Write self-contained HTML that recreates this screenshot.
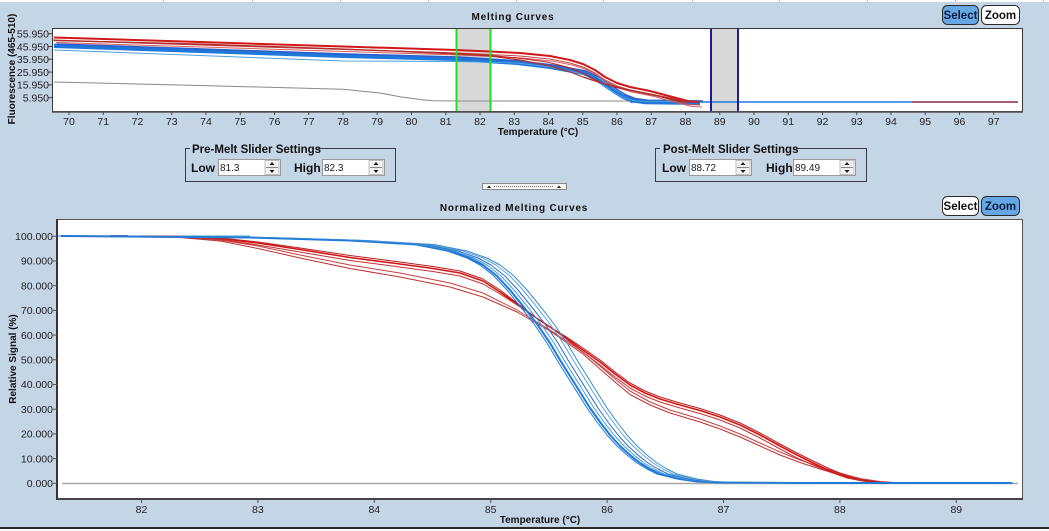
<!DOCTYPE html>
<html><head><meta charset="utf-8"><style>
html,body{margin:0;padding:0;background:#c4d5e6;}
svg{display:block;}
text{font-family:"Liberation Sans",Arial,sans-serif;}
.tk{font-size:10.5px;fill:#222;}
.ttl{font-size:10px;font-weight:bold;letter-spacing:0.8px;fill:#111;}
.ax{font-size:10px;font-weight:bold;fill:#111;}
.lbl{font-size:12px;font-weight:bold;fill:#111;}
.grp{font-size:11.5px;font-weight:bold;fill:#111;}
.inp{font-size:10px;fill:#222;}
</style></head><body>
<svg width="1049" height="531" viewBox="0 0 1049 531" xmlns="http://www.w3.org/2000/svg" xmlns:xlink="http://www.w3.org/1999/xlink">
<defs>
<clipPath id="c1"><rect x="53" y="29" width="969" height="82"/></clipPath>
<clipPath id="c2"><rect x="58" y="220" width="955" height="278"/></clipPath>
<polyline id="tb" fill="none" stroke-linejoin="round" points="54,45 200,50 343,55 456,58 517,62 550,66 583,72 596,78 606,85 615,91 623,96 632,99.5 645,101.3 700,102"/>
<polyline id="tr" fill="none" stroke-linejoin="round" points="54,37.5 200,42 343,46.5 456,50 490,51.5 520,53 550,56 570,60 583,64 595,70 605,77 617,83 630,87 650,91 665,95 680,99 690,101.5 700,102"/>
<polyline id="bb" fill="none" stroke-linejoin="round" points="61,236 250,237.5 350,240.5 417,244.5 450,251 470,258 483,265 497,276 510,290 523,306 537,324 550,343 560,360 570,376 580,392 590,408 600,422 610,435 620,446 630,455 640,463 650,469 660,474 680,479 697,481.5 720,482.5 800,483 1012,483"/>
</defs>
<rect x="0" y="0" width="1049" height="531" fill="#c4d5e6"/>
<rect x="0" y="0" width="1049" height="2" fill="#fff"/>
<g stroke="#b8b8b8" stroke-width="1">
<line x1="163.5" y1="0" x2="163.5" y2="2"/><line x1="252.5" y1="0" x2="252.5" y2="2"/><line x1="340.5" y1="0" x2="340.5" y2="2"/><line x1="428.5" y1="0" x2="428.5" y2="2"/><line x1="516.5" y1="0" x2="516.5" y2="2"/><line x1="603.5" y1="0" x2="603.5" y2="2"/><line x1="692.5" y1="0" x2="692.5" y2="2"/><line x1="779.5" y1="0" x2="779.5" y2="2"/><line x1="867.5" y1="0" x2="867.5" y2="2"/><line x1="955.5" y1="0" x2="955.5" y2="2"/><line x1="1043.5" y1="0" x2="1043.5" y2="2"/>
</g>
<rect x="0" y="527" width="1049" height="2" fill="#2a2a2a"/>
<rect x="0" y="529" width="1049" height="2" fill="#fff"/>

<!-- ============ TOP CHART ============ -->
<text x="513" y="20" class="ttl" text-anchor="middle">Melting Curves</text>
<rect x="942.5" y="5.5" width="36" height="19" rx="5" fill="#67a7e4" stroke="#2a2a2a"/>
<text x="960.5" y="19" font-size="11.5" font-weight="bold" fill="#0d2040" text-anchor="middle">Select</text>
<rect x="981.5" y="5.5" width="38" height="19" rx="5" fill="#fff" stroke="#2a2a2a"/>
<text x="1000.5" y="19" font-size="11.5" font-weight="bold" fill="#111" text-anchor="middle">Zoom</text>

<rect x="52" y="28" width="971" height="84" fill="#fff"/>
<rect x="456" y="29" width="34.5" height="82" fill="#d9d9d9"/>
<rect x="711" y="29" width="26.5" height="82" fill="#d9d9d9"/>
<g clip-path="url(#c1)" fill="none" stroke-linejoin="round">
<polyline stroke="#8a8a8a" stroke-width="1" points="54,82 200,85.5 343,89.3 380,93 400,96.7 420,99.5 433,100.7 460,101 700,101"/>
<line x1="630" y1="102" x2="912" y2="102" stroke="#1e7be0" stroke-width="1.5"/>
<line x1="912" y1="102" x2="1018" y2="102" stroke="#8c2848" stroke-width="1.5"/>
<use xlink:href="#tb" href="#tb" stroke="#1e78dc" stroke-width="3"/>
<use xlink:href="#tb" href="#tb" stroke="#1e78dc" stroke-width="2" transform="translate(0,2)"/>
<use xlink:href="#tb" href="#tb" stroke="#2f5fc8" stroke-width="1.5" transform="translate(3,-1)"/>
<polyline stroke-width="1" stroke="#4aa0e0" points="54,50 200,55.5 343,61 456,61.5 517,63 550,67 583,74 600,83 612,91 622,97 635,101 700,102"/>
<use xlink:href="#tr" href="#tr" stroke="#d01818" stroke-width="2"/>
<use xlink:href="#tr" href="#tr" stroke="#c84848" stroke-width="1" transform="translate(0,3)"/>
<use xlink:href="#tr" href="#tr" stroke="#d86060" stroke-width="1" transform="translate(2,5)"/>
<polyline stroke-width="1" stroke="#c02020" points="51,40 197,44.5 340,49 453,53 487,55 517,58 547,62 567,67 580,72 592,78 602,83 614,87 627,90 647,94 662,97 677,101 687,102 697,102"/>
<polyline stroke-width="1.2" stroke="#b03030" points="54,40.5 200,44 343,49 456,54 490,56 520,60 550,66 570,72 583,77 595,81 605,84 617,87 630,90 650,94 665,97 680,100.5 690,102 700,102"/>
</g>
<line x1="456.5" y1="28" x2="456.5" y2="112" stroke="#22dd22" stroke-width="2"/>
<line x1="490.5" y1="28" x2="490.5" y2="112" stroke="#22dd22" stroke-width="2"/>
<line x1="711" y1="28" x2="711" y2="112" stroke="#1a1a9a" stroke-width="2"/>
<line x1="738" y1="28" x2="738" y2="112" stroke="#1a1a9a" stroke-width="2"/>
<rect x="52.5" y="28.5" width="970" height="83" fill="none" stroke="#3a3a3a" stroke-width="1"/>
<line x1="52" y1="112" x2="1023" y2="112" stroke="#555" stroke-width="1.5"/>
<g stroke="#444" stroke-width="1">
<line x1="48" y1="33.7" x2="52" y2="33.7"/><line x1="48" y1="46.5" x2="52" y2="46.5"/><line x1="48" y1="59.3" x2="52" y2="59.3"/><line x1="48" y1="72.1" x2="52" y2="72.1"/><line x1="48" y1="84.9" x2="52" y2="84.9"/><line x1="48" y1="97.7" x2="52" y2="97.7"/>
</g>
<g class="tk" text-anchor="end">
<text x="49" y="37.5">55.950</text><text x="49" y="50.3">45.950</text><text x="49" y="63.1">35.950</text><text x="49" y="75.9">25.950</text><text x="49" y="88.7">15.950</text><text x="49" y="101.5">5.950</text>
</g>
<text transform="translate(15,69) rotate(-90)" class="ax" text-anchor="middle" font-size="9.5">Fluorescence (465-510)</text>
<g stroke="#444" stroke-width="1">
<line x1="69" y1="112" x2="69" y2="115"/><line x1="103.25" y1="112" x2="103.25" y2="115"/><line x1="137.5" y1="112" x2="137.5" y2="115"/><line x1="171.75" y1="112" x2="171.75" y2="115"/><line x1="206" y1="112" x2="206" y2="115"/><line x1="240.25" y1="112" x2="240.25" y2="115"/><line x1="274.5" y1="112" x2="274.5" y2="115"/><line x1="308.75" y1="112" x2="308.75" y2="115"/><line x1="343" y1="112" x2="343" y2="115"/><line x1="377.25" y1="112" x2="377.25" y2="115"/><line x1="411.5" y1="112" x2="411.5" y2="115"/><line x1="445.75" y1="112" x2="445.75" y2="115"/><line x1="480" y1="112" x2="480" y2="115"/><line x1="514.25" y1="112" x2="514.25" y2="115"/><line x1="548.5" y1="112" x2="548.5" y2="115"/><line x1="582.75" y1="112" x2="582.75" y2="115"/><line x1="617" y1="112" x2="617" y2="115"/><line x1="651.25" y1="112" x2="651.25" y2="115"/><line x1="685.5" y1="112" x2="685.5" y2="115"/><line x1="719.75" y1="112" x2="719.75" y2="115"/><line x1="754" y1="112" x2="754" y2="115"/><line x1="788.25" y1="112" x2="788.25" y2="115"/><line x1="822.5" y1="112" x2="822.5" y2="115"/><line x1="856.75" y1="112" x2="856.75" y2="115"/><line x1="891" y1="112" x2="891" y2="115"/><line x1="925.25" y1="112" x2="925.25" y2="115"/><line x1="959.5" y1="112" x2="959.5" y2="115"/><line x1="993.75" y1="112" x2="993.75" y2="115"/>
</g>
<g class="tk" text-anchor="middle">
<text x="69" y="125">70</text><text x="103.25" y="125">71</text><text x="137.5" y="125">72</text><text x="171.75" y="125">73</text><text x="206" y="125">74</text><text x="240.25" y="125">75</text><text x="274.5" y="125">76</text><text x="308.75" y="125">77</text><text x="343" y="125">78</text><text x="377.25" y="125">79</text><text x="411.5" y="125">80</text><text x="445.75" y="125">81</text><text x="480" y="125">82</text><text x="514.25" y="125">83</text><text x="548.5" y="125">84</text><text x="582.75" y="125">85</text><text x="617" y="125">86</text><text x="651.25" y="125">87</text><text x="685.5" y="125">88</text><text x="719.75" y="125">89</text><text x="754" y="125">90</text><text x="788.25" y="125">91</text><text x="822.5" y="125">92</text><text x="856.75" y="125">93</text><text x="891" y="125">94</text><text x="925.25" y="125">95</text><text x="959.5" y="125">96</text><text x="993.75" y="125">97</text>
</g>
<text x="538" y="135" class="ax" text-anchor="middle">Temperature (°C)</text>

<!-- ============ SLIDER SETTINGS ============ -->
<g>
<rect x="185.5" y="148.5" width="210" height="33" fill="none" stroke="#3a3a4a" stroke-width="1"/>
<rect x="190" y="142" width="128" height="12" fill="#c4d5e6"/>
<text x="192" y="153" class="grp">Pre-Melt Slider Settings</text>
<text x="191" y="172" class="lbl">Low</text>
<rect x="218.5" y="159.5" width="62" height="16" fill="#fff" stroke="#9a9a9a"/>
<text x="220" y="171" class="inp">81.3</text>
<rect x="265" y="160.5" width="14" height="14" fill="#f2f2f2" stroke="#c0c0c0"/>
<line x1="266" y1="167.5" x2="278" y2="167.5" stroke="#888"/>
<path d="M269.5,165 L272,162 L274.5,165 Z M269.5,170 L272,173 L274.5,170 Z" fill="#222"/>
<text x="294" y="172" class="lbl">High</text>
<rect x="322.5" y="159.5" width="62" height="16" fill="#fff" stroke="#9a9a9a"/>
<text x="324" y="171" class="inp">82.3</text>
<rect x="369" y="160.5" width="14" height="14" fill="#f2f2f2" stroke="#c0c0c0"/>
<line x1="370" y1="167.5" x2="382" y2="167.5" stroke="#888"/>
<path d="M373.5,165 L376,162 L378.5,165 Z M373.5,170 L376,173 L378.5,170 Z" fill="#222"/>
</g>
<g>
<rect x="655.5" y="148.5" width="211" height="33" fill="none" stroke="#3a3a4a" stroke-width="1"/>
<rect x="660" y="142" width="136" height="12" fill="#c4d5e6"/>
<text x="663" y="153" class="grp">Post-Melt Slider Settings</text>
<text x="662" y="172" class="lbl">Low</text>
<rect x="689.5" y="159.5" width="62" height="16" fill="#fff" stroke="#9a9a9a"/>
<text x="691" y="171" class="inp">88.72</text>
<rect x="736" y="160.5" width="14" height="14" fill="#f2f2f2" stroke="#c0c0c0"/>
<line x1="737" y1="167.5" x2="749" y2="167.5" stroke="#888"/>
<path d="M740.5,165 L743,162 L745.5,165 Z M740.5,170 L743,173 L745.5,170 Z" fill="#222"/>
<text x="766" y="172" class="lbl">High</text>
<rect x="793.5" y="159.5" width="62" height="16" fill="#fff" stroke="#9a9a9a"/>
<text x="795" y="171" class="inp">89.49</text>
<rect x="840" y="160.5" width="14" height="14" fill="#f2f2f2" stroke="#c0c0c0"/>
<line x1="841" y1="167.5" x2="853" y2="167.5" stroke="#888"/>
<path d="M844.5,165 L847,162 L849.5,165 Z M844.5,170 L847,173 L849.5,170 Z" fill="#222"/>
</g>
<rect x="482.5" y="183.5" width="84" height="6" fill="#f4f4f4" stroke="#8a8a8a"/>
<path d="M487,188 L489,185.5 L491,188 Z M557,188 L559,185.5 L561,188 Z" fill="#222"/>
<line x1="494" y1="186.5" x2="554" y2="186.5" stroke="#777" stroke-dasharray="1,1"/>

<!-- ============ BOTTOM CHART ============ -->
<text x="514" y="211" class="ttl" text-anchor="middle">Normalized Melting Curves</text>
<rect x="942.5" y="196.5" width="36" height="19" rx="5" fill="#fff" stroke="#2a2a2a"/>
<text x="960.5" y="210" font-size="11.5" font-weight="bold" fill="#111" text-anchor="middle">Select</text>
<rect x="981.5" y="196.5" width="38" height="19" rx="5" fill="#67a7e4" stroke="#2a2a2a"/>
<text x="1000.5" y="210" font-size="11.5" font-weight="bold" fill="#0d2040" text-anchor="middle">Zoom</text>

<rect x="57" y="219" width="966" height="280" fill="#fff"/>
<line x1="62" y1="483.5" x2="1018" y2="483.5" stroke="#a8a8a8" stroke-width="1.5"/>
<g clip-path="url(#c2)" fill="none" stroke-linejoin="round">
<line x1="61" y1="236" x2="250" y2="236" stroke="#3aa0d0" stroke-width="1"/>
<rect x="110" y="235" width="18" height="2" fill="#6a5aa8" stroke="none"/>
<!-- lower red pair -->
<polyline stroke="#c84040" stroke-width="1" points="61,236 180,237 220,240 258,246 300,255 350,265 400,273 450,283 483,293 517,310 550,330 583,352 600,366 615,379 630,391 650,402 670,410 700,419 720,426 740,434 760,443 780,452 800,460 820,467 840,473 860,478.5 880,481.5 900,483 1012,483"/>
<polyline stroke="#c03030" stroke-width="1" points="61,236 180,237.5 220,241 258,248.5 300,258 350,268.5 400,277 450,287 483,297 517,312 550,331 583,354 600,369 615,382 630,394.5 650,405 670,413 700,422 720,429 740,437 760,446 780,455 800,462.5 820,469 840,475 860,479.5 880,482 900,483 1012,483"/>
<!-- upper red group -->
<polyline stroke="#d41414" stroke-width="1.6" points="61,236 180,236.5 220,238.5 258,243 300,249.5 350,257.5 400,264 433,268.5 460,273 483,281 500,292 517,304 535,317 550,327 565,337 580,348 600,362 615,374 630,385 645,393 660,399 680,405 700,410.5 720,417 740,425 760,435 780,446 797,455 813,463 830,471 847,477 862,480.5 877,482.3 900,483 1012,483"/>
<polyline stroke="#c83030" stroke-width="1" points="61,236 180,236.5 220,239.5 258,245 300,252 350,260.5 400,267 433,271.5 460,276 483,284 500,294 517,305 535,317 550,327 565,338 580,350 600,365 615,377 630,388 645,396 660,402 680,408 700,413.5 720,420 740,428 760,438 780,449 797,458 813,465 830,472 847,478 862,481 877,482.5 900,483 1012,483"/>
<polyline stroke="#b82020" stroke-width="1" points="61,236 180,236.5 220,238 258,242 300,248 350,255.5 400,262 433,266.5 460,271 483,279 500,290 517,303 535,317 550,327 565,336 580,346 600,360 615,372 630,383 645,391 660,397 680,403 700,408.5 720,415 740,423 760,433 780,444 797,453 813,461 830,469 847,476 862,480 877,482.3 900,483 1012,483"/>
<!-- blue group -->
<use xlink:href="#bb" href="#bb" stroke="#1e7ad8" stroke-width="2"/>
<use xlink:href="#bb" href="#bb" stroke="#4a9ad8" stroke-width="1" transform="translate(4,0)"/>
<use xlink:href="#bb" href="#bb" stroke="#2a6cc0" stroke-width="1" transform="translate(8,0)"/>
<use xlink:href="#bb" href="#bb" stroke="#5aa6dc" stroke-width="1" transform="translate(13,0)"/>
<use xlink:href="#bb" href="#bb" stroke="#3a8ad0" stroke-width="1" transform="translate(17,0)"/>
<use xlink:href="#bb" href="#bb" stroke="#1e7ad8" stroke-width="1" transform="translate(-3,0)"/>
</g>
<rect x="57.5" y="219.5" width="965" height="279" fill="none" stroke="#555" stroke-width="1"/>
<line x1="57" y1="219" x2="57" y2="500" stroke="#333" stroke-width="2"/>
<line x1="57" y1="499" x2="1023" y2="499" stroke="#444" stroke-width="2"/>
<g stroke="#555" stroke-width="1">
<line x1="53" y1="236.3" x2="57" y2="236.3"/><line x1="53" y1="261" x2="57" y2="261"/><line x1="53" y1="285.7" x2="57" y2="285.7"/><line x1="53" y1="310.4" x2="57" y2="310.4"/><line x1="53" y1="335.1" x2="57" y2="335.1"/><line x1="53" y1="359.8" x2="57" y2="359.8"/><line x1="53" y1="384.5" x2="57" y2="384.5"/><line x1="53" y1="409.2" x2="57" y2="409.2"/><line x1="53" y1="433.9" x2="57" y2="433.9"/><line x1="53" y1="458.6" x2="57" y2="458.6"/><line x1="53" y1="483.3" x2="57" y2="483.3"/>
</g>
<g class="tk" text-anchor="end">
<text x="53" y="240">100.000</text><text x="53" y="264.7">90.000</text><text x="53" y="289.4">80.000</text><text x="53" y="314.1">70.000</text><text x="53" y="338.8">60.000</text><text x="53" y="363.5">50.000</text><text x="53" y="388.2">40.000</text><text x="53" y="412.9">30.000</text><text x="53" y="437.6">20.000</text><text x="53" y="462.3">10.000</text><text x="53" y="487">0.000</text>
</g>
<text transform="translate(16,359) rotate(-90)" class="ax" text-anchor="middle" font-size="9.5">Relative Signal (%)</text>
<g stroke="#555" stroke-width="1">
<line x1="141.5" y1="499" x2="141.5" y2="503"/><line x1="257.9" y1="499" x2="257.9" y2="503"/><line x1="374.3" y1="499" x2="374.3" y2="503"/><line x1="490.7" y1="499" x2="490.7" y2="503"/><line x1="607.1" y1="499" x2="607.1" y2="503"/><line x1="723.5" y1="499" x2="723.5" y2="503"/><line x1="839.9" y1="499" x2="839.9" y2="503"/><line x1="956.3" y1="499" x2="956.3" y2="503"/>
</g>
<g class="tk" text-anchor="middle">
<text x="141.5" y="513">82</text><text x="257.9" y="513">83</text><text x="374.3" y="513">84</text><text x="490.7" y="513">85</text><text x="607.1" y="513">86</text><text x="723.5" y="513">87</text><text x="839.9" y="513">88</text><text x="956.3" y="513">89</text>
</g>
<text x="540" y="523" class="ax" text-anchor="middle">Temperature (°C)</text>
</svg>
</body></html>
